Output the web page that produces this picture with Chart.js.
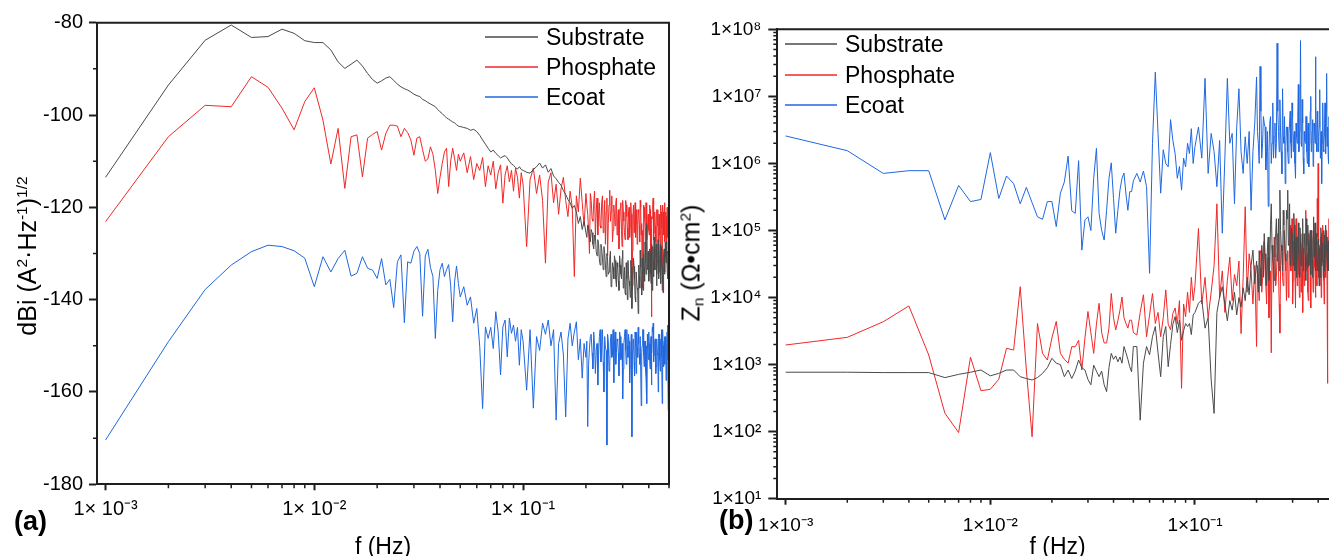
<!DOCTYPE html>
<html>
<head>
<meta charset="utf-8">
<script src="https://cdn.jsdelivr.net/npm/chart.js@4.4.1/dist/chart.umd.min.js"></script>
<style>
html,body{margin:0;padding:0;background:#fff;overflow:hidden;width:1329px;height:556px;}
#wrap{position:relative;width:1329px;height:556px;overflow:hidden;font-family:'Liberation Sans',Arial,sans-serif;color:#000;}
canvas{position:absolute;top:0;}
.lbl{position:absolute;white-space:nowrap;line-height:1;}
.ytitle{position:absolute;white-space:nowrap;line-height:1;font-size:25px;transform:translate(-50%,-50%) rotate(-90deg);}
.ytitle sup{font-size:0.62em;vertical-align:0.55em;line-height:0;}
.ytitle sub{font-size:0.62em;vertical-align:-0.25em;line-height:0;}
.row{position:absolute;height:28px;display:flex;align-items:center;white-space:nowrap;font-size:23px;}
.ln{display:inline-block;width:53px;height:1.5px;margin-right:8px;opacity:0.75;}
</style>
</head>
<body>
<div id="wrap">
  <canvas id="cA" width="700" height="580" style="left:0px"></canvas>
  <canvas id="cB" width="700" height="580" style="left:660px"></canvas>

  <div class="ytitle" style="left:27px;top:256px;">dBi (A<sup>2</sup>·Hz<sup>-1</sup>)<sup>1/2</sup></div>
  <div class="ytitle" style="left:691px;top:263px;">Z<sub>n</sub> (Ω•cm<sup>2</sup>)</div>

  <div class="lbl" style="left:14px;top:508px;font-size:27px;font-weight:bold;">(a)</div>
  <div class="lbl" style="left:719px;top:507px;font-size:27px;font-weight:bold;">(b)</div>

  <div class="row" style="left:485px;top:23px;"><span class="ln" style="background:#4a4a4a"></span>Substrate</div>
  <div class="row" style="left:485px;top:53px;"><span class="ln" style="background:#f02828"></span>Phosphate</div>
  <div class="row" style="left:485px;top:83px;"><span class="ln" style="background:#2068e0"></span>Ecoat</div>

  <div class="row" style="left:785px;top:30px;"><span class="ln" style="background:#4a4a4a;width:52px"></span>Substrate</div>
  <div class="row" style="left:785px;top:61px;"><span class="ln" style="background:#f02828;width:52px"></span>Phosphate</div>
  <div class="row" style="left:785px;top:91px;"><span class="ln" style="background:#2068e0;width:52px"></span>Ecoat</div>
</div>
<script>
// ---------------- data ----------------
const freqs = [
0.001,0.002,0.003,0.004,0.005,0.006,0.007,0.008,0.009,0.010,
0.011,0.012,0.013,0.014,0.015,0.016,0.017,0.018,0.019,0.020,
0.021,0.022,0.023,0.024,0.025,0.026,0.027,0.028,0.029,0.030,
0.031,0.032,0.033,0.034,0.035,0.036,0.037,0.038,0.039,0.040,
0.041,0.042,0.043,0.044,0.045,0.046,0.047,0.048,0.049,0.050,
0.052,0.054,0.056,0.058,0.060,0.062,0.064,0.066,0.068,0.070,
0.072,0.074,0.076,0.078,0.080,0.082,0.084,0.086,0.088,0.090,
0.092,0.094,0.096,0.098,0.100,
0.104,0.108,0.112,0.116,0.120,0.124,0.128,0.132,0.136,0.140,
0.144,0.148,0.152,0.156,0.160,0.164,0.168,0.172,0.176,0.180,
0.184,0.188,0.192,0.196,0.200,0.204,0.208,0.212,0.216,0.220,
0.224,0.228,0.232,0.236,0.240,0.244,0.248,0.252,0.256,0.260,
0.264,0.268,0.272,0.276,0.280,0.284,0.288,0.292,0.296,0.300,
0.304,0.308,0.312,0.316,0.320,0.324,0.328,0.332,0.336,0.340,
0.344,0.348,0.352,0.356,0.360,0.364,0.368,0.372,0.376,0.380,
0.384,0.388,0.392,0.396,0.400,0.404,0.408,0.412,0.416,0.420,
0.424,0.428,0.432,0.436,0.440,0.444,0.448,0.452,0.456,0.460,
0.464,0.468,0.472,0.476,0.480,0.484,0.488,0.492,0.496,0.500
];
// extra high-frequency samples (between the ones above)
const freqsHi = [
0.202,0.206,0.210,0.214,0.218,0.222,0.226,0.230,0.234,0.238,
0.242,0.246,0.250,0.254,0.258,0.262,0.266,0.270,0.274,0.278,
0.282,0.286,0.290,0.294,0.298,0.302,0.306,0.310,0.314,0.318,
0.322,0.326,0.330,0.334,0.338,0.342,0.346,0.350,0.354,0.358,
0.362,0.366,0.370,0.374,0.378,0.382,0.386,0.390,0.394,0.398,
0.402,0.406,0.410,0.414,0.418,0.422,0.426,0.430,0.434,0.438,
0.442,0.446,0.450,0.454,0.458,0.462,0.466,0.470,0.474,0.478,
0.482,0.486,0.490,0.494,0.498
];

// panel (a): dBi
const dbiSubstrate = [
-113.5,-93.5,-83.8,-80.5,-83.2,-83.0,-81.4,-82.3,-83.9,-84.3,
-84.3,-85.9,-88.5,-89.9,-89.0,-88.1,-89.4,-91.0,-92.3,-93.1,
-92.6,-92.0,-91.7,-92.5,-93.3,-93.9,-94.3,-94.6,-95.0,-95.5,
-95.8,-96.0,-96.6,-96.9,-97.3,-97.6,-97.9,-98.2,-98.8,-99.3,
-99.7,-100.2,-100.6,-100.9,-101.2,-101.5,-101.7,-102.1,-102.4,-102.5,
-102.7,-102.9,-103.3,-103.1,-103.6,-104.4,-105.4,-106.3,-107.2,-108.0,
-107.6,-108.3,-108.8,-109.3,-109.0,-108.8,-109.3,-110.0,-110.6,-110.9,
-111.4,-111.7,-111.2,-111.8,-112.0,
-112.4,-112.6,-111.8,-111.2,-110.4,-111.5,-110.8,-112.4,-111.6,-113.2,
-113.8,-114.6,-115.2,-116.4,-117.2,-118.3,-119.0,-120.2,-119.6,-121.0,
-123.5,-122.0,-124.8,-123.0,-125.5,-123.8,-126.5,-124.8,-128.0,-126.0,
-129.5,-127.0,-131.4,-128.0,-131.0,-128.5,-132.5,-130.0,-134.5,-131.0,
-137.2,-132.0,-135.5,-131.5,-137.2,-133.0,-138.0,-132.5,-135.5,-129.3,
-135.0,-138.5,-132.0,-140.0,-134.5,-137.0,-131.5,-141.9,-136.0,-132.8,
-139.5,-134.0,-137.5,-143.0,-135.0,-129.3,-136.5,-131.0,-138.0,-133.0,
-127.5,-134.5,-123.5,-130.0,-136.0,-129.0,-134.5,-128.0,-138.0,-131.5,
-126.5,-133.5,-129.5,-137.0,-131.4,-127.0,-134.0,-130.5,-136.5,-128.5,
-133.0,-138.5,-130.0,-134.5,-127.5,-132.0,-129.3,-135.5,-130.0,-132.5
];
const dbiSubstrateHi = [
-126.5,-124.5,-127.5,-125.5,-129.0,-126.5,-130.5,-128.0,-132.5,-129.0,
-133.5,-130.0,-135.0,-131.5,-134.0,-129.5,-136.5,-133.0,-130.5,-135.5,
-132.0,-136.0,-130.5,-134.5,-131.0,-137.5,-133.0,-139.0,-135.5,-131.5,
-136.0,-139.5,-133.0,-137.0,-131.0,-135.5,-140.5,-134.0,-138.0,-132.5,
-137.5,-133.0,-139.0,-134.5,-130.0,-136.0,-131.5,-128.0,-133.5,-129.5,
-134.0,-130.0,-136.5,-132.0,-128.5,-135.0,-130.5,-133.5,-128.0,-134.5,
-129.5,-135.5,-131.0,-128.0,-133.0,-130.0,-136.0,-131.5,-129.0,-134.0,
-130.5,-127.5,-133.5,-129.5,-131.0
];
const dbiPhosphate = [
-123.1,-104.7,-97.9,-98.2,-91.7,-94.0,-98.5,-103.2,-97.1,-94.1,
-101.1,-110.6,-102.9,-115.9,-104.7,-104.3,-113.4,-105.0,-104.2,-103.6,
-107.6,-104.0,-102.2,-102.2,-102.4,-104.7,-102.9,-103.8,-105.4,-108.7,
-105.0,-104.7,-107.5,-110.0,-109.5,-106.9,-108.5,-112.0,-117.0,-113.5,
-110.5,-108.0,-107.2,-115.5,-110.0,-107.2,-109.5,-112.0,-108.5,-110.0,
-108.2,-112.5,-109.0,-114.0,-110.5,-112.0,-109.2,-115.5,-111.0,-113.0,
-110.0,-116.0,-112.5,-110.8,-119.1,-113.0,-111.0,-114.5,-112.0,-116.5,
-111.5,-113.5,-118.0,-112.5,-115.0,
-128.5,-114.0,-111.5,-117.0,-113.0,-118.5,-132.1,-114.5,-112.5,-119.0,
-115.0,-121.5,-116.0,-113.5,-118.5,-122.0,-116.5,-120.0,-135.0,-117.5,
-121.0,-113.7,-119.0,-124.0,-117.0,-121.5,-130.0,-118.5,-123.0,-116.5,
-121.0,-126.0,-119.0,-124.5,-117.5,-122.5,-128.0,-118.0,-123.5,-116.3,
-121.0,-127.5,-119.5,-124.0,-118.0,-122.5,-129.0,-120.0,-125.0,-118.5,
-123.0,-127.0,-119.5,-124.5,-121.0,-126.5,-119.0,-137.9,-122.0,-125.5,
-119.0,-123.5,-128.0,-120.5,-124.0,-118.5,-126.0,-137.5,-130.0,-120.0,
-124.5,-119.0,-127.0,-122.0,-125.0,-119.5,-130.5,-143.7,-122.5,-118.0,
-125.5,-121.0,-127.5,-120.5,-124.0,-129.0,-121.5,-126.0,-119.5,-123.5,
-138.0,-121.0,-125.0,-119.0,-126.5,-122.0,-130.0,-121.5,-125.5,-123.0
];
const dbiPhosphateHi = [
-119.5,-125.0,-117.0,-122.5,-119.0,-126.5,-118.0,-121.5,-124.0,-119.0,
-125.5,-118.5,-121.0,-130.5,-119.5,-123.0,-117.5,-125.0,-121.5,-119.0,
-126.0,-120.5,-123.5,-119.0,-128.5,-121.0,-125.5,-118.5,-122.0,-127.0,
-120.0,-124.0,-121.5,-129.5,-119.5,-123.0,-126.5,-120.5,-124.5,-121.0,
-127.5,-120.0,-123.5,-125.0,-119.5,-122.5,-128.5,-120.5,-124.0,-121.5,
-126.0,-120.5,-124.5,-122.0,-119.0,-127.0,-121.5,-124.0,-131.0,-122.0,
-120.5,-125.0,-122.5,-128.0,-121.0,-124.5,-119.5,-126.0,-122.5,-127.5,
-121.0,-124.0,-120.0,-126.5,-122.5
];
const dbiEcoat = [
-170.4,-149.1,-137.8,-132.5,-129.6,-128.2,-128.5,-129.4,-131.0,-137.2,
-130.7,-134.0,-131.1,-129.3,-134.9,-134.3,-130.7,-133.2,-133.6,-135.4,
-131.1,-136.8,-135.6,-141.7,-131.8,-130.3,-145.0,-131.8,-132.1,-129.5,
-128.5,-130.0,-143.6,-130.5,-129.1,-133.0,-135.0,-148.4,-138.0,-133.5,
-132.1,-135.0,-133.5,-132.4,-137.0,-144.8,-136.0,-132.7,-136.5,-139.4,
-137.2,-141.2,-139.4,-145.1,-141.9,-150.2,-163.6,-145.9,-148.4,-146.0,
-150.6,-142.6,-147.0,-156.3,-145.9,-144.4,-152.4,-144.0,-147.3,-145.5,
-149.0,-146.0,-154.2,-146.5,-149.0,
-159.6,-146.5,-163.5,-148.0,-151.0,-145.1,-147.5,-144.4,-150.0,-146.5,
-166.1,-149.5,-147.0,-152.0,-165.4,-148.5,-145.1,-150.0,-147.0,-144.8,
-153.0,-148.5,-157.0,-149.5,-152.5,-167.5,-150.5,-147.5,-155.0,-150.0,
-150.9,-158.5,-148.0,-153.5,-146.5,-160.0,-150.5,-171.5,-149.0,-154.5,
-147.5,-152.0,-158.0,-147.0,-151.5,-149.0,-156.5,-148.0,-152.5,-161.5,
-149.5,-146.5,-154.0,-150.0,-147.5,-158.0,-151.0,-169.7,-149.0,-153.5,
-147.0,-156.0,-150.5,-146.0,-152.0,-148.0,-163.0,-150.0,-146.5,-154.5,
-149.0,-157.0,-162.5,-150.5,-147.0,-153.0,-149.5,-158.5,-146.0,-145.1,
-152.0,-149.0,-156.0,-148.5,-151.5,-160.0,-147.5,-153.0,-149.0,-146.5,
-162.5,-150.0,-154.5,-148.0,-151.0,-157.5,-149.5,-145.5,-164.0,-152.0
];
const dbiEcoatHi = [
-149.0,-154.0,-148.0,-151.5,-147.0,-156.0,-149.5,-152.0,-146.5,-150.5,
-153.5,-148.0,-151.0,-147.5,-155.5,-149.0,-152.5,-146.5,-150.0,-154.0,
-148.5,-151.5,-147.0,-153.0,-149.5,-155.0,-148.0,-151.0,-146.5,-152.5,
-149.0,-154.5,-147.5,-151.0,-148.5,-156.5,-150.0,-147.0,-152.5,-149.5,
-154.0,-148.0,-151.5,-146.5,-152.0,-149.0,-155.5,-150.0,-147.5,-153.0,
-149.5,-155.0,-148.0,-151.5,-147.0,-153.5,-150.0,-148.5,-154.5,-149.0,
-152.0,-147.5,-150.5,-155.5,-148.5,-152.5,-146.5,-151.0,-149.0,-154.0,
-148.0,-151.5,-147.0,-153.0,-149.5
];

// panel (b): Zn (ohm cm2)
const znSubstrate = [
770,770,760,760,760,640,715,770,830,680,
740,830,830,660,620,590,640,740,900,1240,
1050,1000,660,830,620,800,1170,900,830,600,
500,980,800,660,800,500,395,900,1470,1200,
1350,1100,1300,1050,1860,1500,1200,930,780,1860,
1860,148,1050,1860,1400,2600,3700,1500,660,2600,
3700,930,2000,4000,5200,3000,4600,2300,3200,4100,
3700,4100,2800,5500,6000,
8200,9200,3500,5000,590,187,6000,10200,14500,8000,
4500,9000,6500,12000,5500,10000,7200,14000,9000,20000,
11000,30000,51000,16000,35000,12000,28000,60000,20000,45000,
15000,80000,30000,250000,40000,18000,90000,35000,150000,400000,
60000,25000,120000,45000,200000,400000,70000,30000,110000,50000,
180000,25000,80000,40000,130000,20000,80000,45000,150000,35000,
90000,18000,60000,120000,30000,75000,22000,100000,40000,160000,
50000,25000,90000,35000,70000,15000,55000,110000,30000,65000,
20000,85000,40000,120000,51000,25000,70000,30000,90000,45000,
20000,60000,35000,100000,40000,70000,25000,55000,80000,40000
];
const znSubstrateHi = [
22000,50000,15000,40000,90000,25000,55000,18000,120000,60000,
30000,70000,150000,40000,25000,100000,50000,200000,80000,35000,
150000,60000,250000,40000,90000,30000,120000,55000,20000,70000,
45000,110000,30000,65000,25000,90000,40000,150000,28000,70000,
35000,100000,50000,20000,80000,40000,130000,30000,60000,25000,
75000,40000,20000,90000,35000,60000,100000,25000,50000,80000,
35000,55000,25000,90000,40000,60000,30000,75000,45000,25000,
65000,35000,90000,45000,60000
];
const znPhosphate = [
1960,2550,4360,7500,1390,188,97,1290,408,428,
605,1750,1650,14500,830,84,4100,1470,1170,2500,
4400,1470,1200,1050,1850,1850,2300,830,2500,6200,
3000,1470,4000,8200,3000,2100,2100,3500,11500,5000,
3300,4500,6500,10200,5000,4100,3500,4600,4600,3000,
2760,6000,11000,2600,5500,11500,4100,6000,2600,5000,
13000,4000,3300,5800,7000,4000,9000,443,8000,5200,
12000,6000,20000,9000,15000,
107000,8000,20000,5000,12000,30000,250000,10000,25000,6000,
18000,40000,9000,22000,15000,35000,2900,20000,226000,12000,
45000,25000,8000,30000,1860,18000,50000,12000,60000,25000,
8000,40000,20000,1500,35000,80000,15000,45000,25000,2950,
60000,20000,100000,35000,9000,50000,20000,120000,30000,8000,
70000,25000,150000,15000,45000,10000,80000,30000,6000,55000,
20000,200000,35000,12000,90000,40000,7000,60000,25000,130000,
30000,10000,70000,300000,1000000,50000,15000,80000,25000,120000,
35000,8000,60000,20000,100000,525,45000,150000,30000,80000,
12000,50000,200000,25000,70000,15000,90000,30000,120000,40000
];
const znPhosphateHi = [
30000,9000,45000,20000,70000,15000,35000,5000,25000,60000,
12000,40000,20000,90000,8000,30000,50000,15000,70000,25000,
40000,10000,60000,25000,150000,18000,45000,7000,35000,80000,
22000,50000,12000,90000,30000,15000,65000,25000,45000,9000,
55000,20000,100000,35000,12000,70000,25000,45000,15000,80000,
20000,60000,30000,10000,90000,40000,18000,70000,30000,55000,
15000,80000,25000,50000,10000,100000,30000,60000,20000,45000,
70000,25000,50000,15000,60000
];
const znEcoat = [
2.57e6,1.55e6,7.1e5,7.8e5,7.8e5,1.44e5,4.7e5,2.7e5,2.9e5,1.45e6,
3.0e5,6.5e5,5.0e5,2.5e5,4.4e5,2.6e5,1.6e5,1.47e5,2.7e5,2.7e5,
1.14e5,3.6e5,5.3e5,1.29e6,1.97e5,1.8e5,1.1e6,5.1e4,1.44e5,1.6e5,
1.0e5,6.0e5,1.68e6,1.8e5,1.0e5,7.2e4,2.0e5,6.0e5,1.02e6,3.0e5,
9.1e4,2.0e5,4.0e5,6.0e5,7.2e5,3.5e5,2.0e5,3.8e5,3.8e5,5.5e5,
7.1e5,5.3e5,7.7e5,4.5e5,2.3e4,2.0e6,2.3e7,2.8e6,3.6e5,1.6e6,
1.0e6,8.9e5,4.5e6,2.2e6,1.4e6,6.0e5,9.0e5,4.0e5,1.2e6,8.9e5,
2.0e6,1.4e6,3.3e6,1.0e6,1.78e6,
3.5e6,1.2e6,1.86e7,7.1e5,2.8e6,1.5e6,4.5e5,2.2e6,9.1e4,1.2e6,
1.86e7,2.0e6,2.8e6,2.5e5,3.5e6,1.3e7,1.5e6,7.1e5,2.5e6,1.0e6,
3.0e6,2.0e5,1.5e6,4.0e6,1.95e7,2.0e6,2.8e7,1.2e6,5.0e6,3.5e6,
1.5e6,2.3e5,4.0e6,1.0e6,8.0e6,2.5e6,1.2e6,6.2e7,3.0e6,8.9e6,
1.5e6,1.3e7,2.0e6,5.0e5,3.5e6,1.5e6,2.8e6,6.0e6,1.2e6,5.0e6,
2.5e6,1.0e6,4.0e6,2.0e6,1.5e7,3.0e6,6.8e7,1.8e6,4.0e6,7.0e5,
2.2e6,5.0e6,1.5e6,3.5e6,8.9e5,2.5e6,1.0e7,1.8e6,4.5e6,1.2e6,
3.0e6,3.9e7,2.0e6,6.0e6,1.5e6,3.5e6,1.26e7,2.0e6,5.0e5,4.0e6,
1.6e6,2.5e6,8.0e6,1.4e6,2.2e7,3.0e6,1.2e6,5.0e6,2.0e6,3.0e6,
8.0e5,6.0e6,2.0e6,4.0e6,1.5e6,3.0e6,1.0e7,2.0e6,3.5e6,1.5e6
];
const znEcoatHi = [
3.0e6,1.0e6,6.0e6,2.0e6,4.0e6,8.0e5,3.0e6,1.5e6,5.0e6,2.0e6,
1.2e6,4.0e6,2.0e6,6.0e6,1.5e6,3.0e6,7.0e5,2.5e6,5.0e6,1.8e6,
3.5e6,1.0e6,4.0e6,2.0e6,8.0e6,1.5e6,3.0e6,6.0e5,2.5e6,5.0e6,
1.5e6,3.5e6,2.0e6,9.0e6,1.2e6,3.0e6,2.0e6,5.0e6,1.0e6,4.0e6,
2.0e6,6.0e6,1.5e6,3.0e6,9.0e5,4.0e6,2.0e6,7.0e6,1.5e6,3.5e6,
2.5e6,5.0e6,1.2e6,3.0e6,2.0e6,8.0e6,1.5e6,4.0e6,2.5e6,6.0e6,
1.8e6,3.5e6,1.0e6,5.0e6,2.5e6,4.0e6,1.5e6,3.0e6,7.0e6,2.0e6,
4.5e6,1.5e6,3.0e6,6.0e6,2.0e6
];

const seriesNames = ['Substrate','Phosphate','Ecoat'];

// axis ticks
const xTicksA = [0.001, 0.01, 0.1];
const xLabelsA = ['1× 10⁻³', '1× 10⁻²', '1× 10⁻¹'];
const xTicksB = [0.001, 0.01, 0.1];
const xLabelsB = ['1×10⁻³', '1×10⁻²', '1×10⁻¹'];
const xMinor = [0.002,0.003,0.004,0.005,0.006,0.007,0.008,0.009,
                0.02,0.03,0.04,0.05,0.06,0.07,0.08,0.09,
                0.2,0.3,0.4,0.5];
const yTicksA = [-180,-160,-140,-120,-100,-80];
const yLabelsA = ['-180','-160','-140','-120','-100','-80'];
const yMinorA = [-170,-150,-130,-110,-90];
const yTicksB = [1e1,1e2,1e3,1e4,1e5,1e6,1e7,1e8];
const yLabelsB = ['1×10¹','1×10²','1×10³','1×10⁴','1×10⁵','1×10⁶','1×10⁷','1×10⁸'];
const yMinorB = [20,30,40,50,60,70,80,90,
  200,300,400,500,600,700,800,900,
  2e3,3e3,4e3,5e3,6e3,7e3,8e3,9e3,
  2e4,3e4,4e4,5e4,6e4,7e4,8e4,9e4,
  2e5,3e5,4e5,5e5,6e5,7e5,8e5,9e5,
  2e6,3e6,4e6,5e6,6e6,7e6,8e6,9e6,
  2e7,3e7,4e7,5e7,6e7,7e7,8e7,9e7];

// ---------------- styling ----------------
const FONT = "'Liberation Sans', Arial, sans-serif";
const COLORS = ['#4a4a4a', '#f02828', '#2068e0'];
const AXIS = '#1e1e1e';

// merge the main grid and the extra high-frequency samples, sorted by frequency
const pts = (ys, ysHi) =>
  freqs.map((x, i) => ({x: x, y: ys[i]}))
    .concat(freqsHi.map((x, i) => ({x: x, y: ysHi[i]})))
    .sort((a, b) => a.x - b.x);

const frameTicks = {
  id: 'frameTicks',
  afterDraw(chart, args, o) {
    const {ctx, chartArea: a, scales} = chart;
    ctx.save();
    ctx.strokeStyle = AXIS;
    ctx.lineWidth = 2;
    ctx.beginPath();
    ctx.moveTo(a.left - 1, a.top);
    ctx.lineTo(a.right, a.top);
    ctx.lineTo(a.right, a.bottom + 1);
    ctx.stroke();
    ctx.lineWidth = 1.5;
    ctx.beginPath();
    for (const v of o.xMinor) {
      const px = scales.x.getPixelForValue(v);
      ctx.moveTo(px, a.bottom); ctx.lineTo(px, a.bottom + o.xLen);
    }
    for (const v of o.yMinor) {
      const py = scales.y.getPixelForValue(v);
      ctx.moveTo(a.left, py); ctx.lineTo(a.left - o.yLen, py);
    }
    ctx.stroke();
    ctx.restore();
  }
};

function makeDatasets(arrs) {
  return arrs.map((pair, i) => ({
    label: seriesNames[i],
    data: pts(pair[0], pair[1]),
    borderColor: COLORS[i],
    backgroundColor: COLORS[i],
    borderWidth: 1,
    pointRadius: 0,
    tension: 0,
    fill: false
  }));
}

function makeChart(id, cfg) {
  return new Chart(document.getElementById(id), {
    type: 'line',
    data: {datasets: makeDatasets(cfg.series)},
    options: {
      responsive: false,
      animation: false,
      events: [],
      layout: {padding: cfg.padding},
      plugins: {
        legend: {display: false},
        tooltip: {enabled: false},
        frameTicks: {xMinor: xMinor, yMinor: cfg.yMinor, xLen: 4, yLen: cfg.yMinorLen}
      },
      scales: {
        x: {
          type: 'logarithmic',
          position: 'bottom',
          min: 0.00091,
          max: 0.5,
          afterBuildTicks: s => { s.ticks = cfg.xTicks.map(v => ({value: v, major: true})); },
          afterFit: s => { s.height = cfg.xHeight; },
          ticks: {
            autoSkip: false, maxRotation: 0, minRotation: 0,
            padding: cfg.xPad, color: '#000',
            font: {family: FONT, size: cfg.tickSize},
            callback: (v, i) => cfg.xLabels[i]
          },
          grid: {drawOnChartArea: false, drawTicks: true, tickLength: 6, tickWidth: 2, tickColor: AXIS},
          border: {display: true, color: AXIS, width: 2},
          title: {display: true, text: 'f (Hz)', color: '#000',
                  font: {family: FONT, size: 23}, padding: {top: 0, bottom: cfg.titlePad}}
        },
        y: {
          type: cfg.yType,
          min: cfg.yMin,
          max: cfg.yMax,
          afterBuildTicks: s => { s.ticks = cfg.yTicks.map(v => ({value: v, major: true})); },
          afterFit: s => { s.width = cfg.yWidth; },
          ticks: {
            autoSkip: false, padding: cfg.yPad, color: '#000',
            font: {family: FONT, size: cfg.tickSize},
            callback: (v, i) => cfg.yLabels[i]
          },
          grid: {drawOnChartArea: false, drawTicks: true, tickLength: cfg.yTickLen, tickWidth: 2, tickColor: AXIS},
          border: {display: true, color: AXIS, width: 2}
        }
      }
    },
    plugins: [frameTicks]
  });
}

makeChart('cA', {
  series: [[dbiSubstrate, dbiSubstrateHi], [dbiPhosphate, dbiPhosphateHi], [dbiEcoat, dbiEcoatHi]],
  padding: {left: 0, top: 22.7, right: 31, bottom: 0},
  xTicks: xTicksA, xLabels: xLabelsA, xHeight: 95.7, xPad: 7,
  yType: 'linear', yMin: -180, yMax: -80,
  yTicks: yTicksA, yLabels: yLabelsA, yMinor: yMinorA, yMinorLen: 4,
  yWidth: 97, yPad: 6, yTickLen: 8, tickSize: 20, titlePad: 19
});

makeChart('cB', {
  series: [[znSubstrate, znSubstrateHi], [znPhosphate, znPhosphateHi], [znEcoat, znEcoatHi]],
  padding: {left: 0, top: 29.35, right: 22, bottom: 0},
  xTicks: xTicksB, xLabels: xLabelsB, xHeight: 81.3, xPad: 10,
  yType: 'logarithmic', yMin: 10, yMax: 1e8,
  yTicks: yTicksB, yLabels: yLabelsB, yMinor: yMinorB, yMinorLen: 4,
  yWidth: 117.3, yPad: 7, yTickLen: 9, tickSize: 19, titlePad: 19
});
</script>
</body>
</html>
